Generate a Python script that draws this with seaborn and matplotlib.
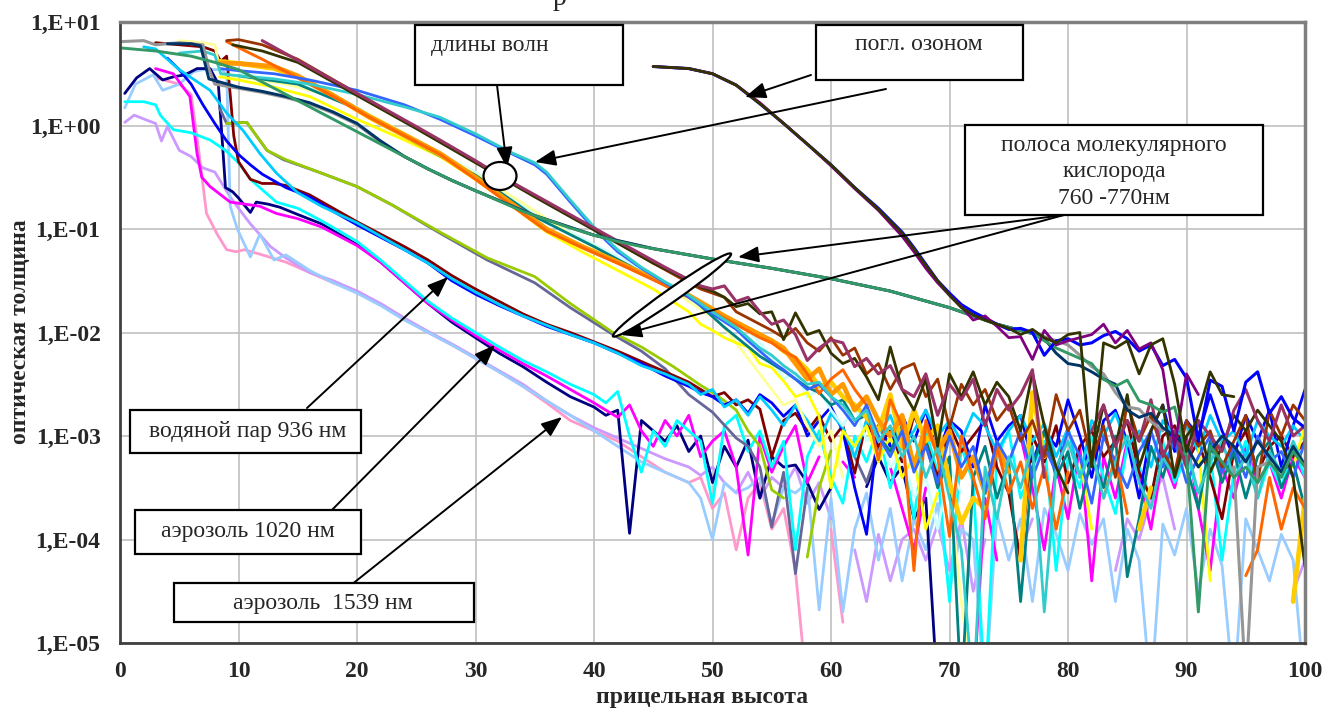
import numpy as np
import seaborn as sns
import matplotlib
matplotlib.use("Agg")
import matplotlib.pyplot as plt
from matplotlib.patches import Rectangle, Ellipse
from matplotlib.transforms import Affine2D

nan = np.nan

# optical depth, stored as log10(tau)
# each curve: knots (x, lg) + an optional noisy tail sampled every 1 unit

# --- aerosol 1539 nm ---
pink_x = [3, 5, 6, 6.6, 7.3, 8.2, 9, 9.8, 10.5, 12, 14, 16, 18, 20, 22, 24, 26, 28, 30, 32, 34, 36, 38, 40, 42, 44, 46, 48]
pink_lg = [0.46, 0.40, 0.30, -0.20, -0.85, -1.05, -1.20, -1.22, -1.20, -1.25, -1.32, -1.42, -1.52, -1.60, -1.73, -1.87,
           -2.00, -2.12, -2.25, -2.38, -2.52, -2.68, -2.85, -2.95, -3.05, -3.20, -3.35, -3.45]
pink_tail = [-3.40, -3.70, -3.55, -4.10, -3.60, -3.45, -3.90, -3.70, -4.30, -5.50, nan, -3.90, -4.80]

lav_x = [0.4, 1.2, 2.3, 3, 3.5, 4, 5, 6, 7, 8, 9.3, 10, 11, 12.7, 14, 16, 18, 20, 22, 24, 26, 28, 30, 32, 34, 36, 38,
         40, 42, 44, 46, 48]
lav_lg = [0.03, 0.10, 0.05, 0.02, -0.15, -0.01, -0.24, -0.30, -0.41, -0.45, -0.69, -0.80, -0.95, -1.17, -1.28, -1.42,
          -1.50, -1.60, -1.72, -1.86, -1.99, -2.11, -2.24, -2.37, -2.50, -2.66, -2.80, -2.92, -3.02, -3.12, -3.22, -3.30]
lav_tail = [-3.38, -3.30, -3.45, -3.55, -3.35, -3.60, -3.40, -3.50, -3.30, -3.65, -3.45, -3.80, nan, -4.10, -4.60,
            -3.95, -4.40, -4.00, -3.90, -4.20, -3.85, -4.30, -3.80, -4.50, -4.00, nan, nan, -4.10, -3.80, nan, nan, nan,
            nan, nan, nan, -4.30, -3.80, -4.00, -3.60, -3.40, -3.90, nan, nan, nan, nan, nan, nan, nan, nan, nan,
            -4.50, -4.20]

pale_x = [0.4, 1.3, 2.8, 3.6, 5, 6.2, 7, 8.4, 9, 9.3, 9.9, 11, 11.8, 13, 14, 16, 18, 20, 22, 24, 26, 28, 30, 32, 34,
          36, 38, 40, 42, 44, 46, 48]
pale_lg = [0.17, 0.40, 0.49, 0.34, 0.40, 0.52, 0.54, 0.54, 0.50, -0.78, -1.00, -1.27, -1.05, -1.30, -1.25, -1.40,
           -1.52, -1.62, -1.74, -1.88, -2.00, -2.12, -2.25, -2.38, -2.52, -2.66, -2.80, -2.95, -3.10, -3.25, -3.35, -3.45]
pale_tail = [-3.60, -4.00, -3.45, -3.55, -3.50, -3.40, -3.85, -3.50, -3.55, -3.45, -4.68, -3.60, -4.70, -3.90, -3.55,
             -4.20, -3.70, -4.40, -3.80, -4.10, -3.65, -4.50, -3.90, -4.00, -5.50, -3.75, -4.20, -3.80, -4.60, -3.70,
             -3.95, -4.30, -3.75, -4.05, -3.80, -4.60, -3.90, -4.20, -5.50, -3.85, -4.15, -3.70, -4.50, -3.90, -4.25,
             -5.50, -3.80, -4.10, -4.40, -3.95, -4.20, -5.50]

# --- aerosol 1020 nm ---
navy_x = [0.4, 1.4, 2.5, 3.6, 4.5, 5.5, 6.5, 7.6, 8.3, 8.9, 9.5, 10, 11, 11.5, 12.5, 13.5, 15, 17, 20, 22, 24, 26, 28,
          30, 32, 34, 36, 38, 40]
navy_lg = [0.31, 0.46, 0.55, 0.44, 0.47, 0.49, 0.55, 0.55, 0.40, -0.60, -0.64, -0.70, -0.84, -0.74, -0.76, -0.79,
           -0.86, -0.95, -1.15, -1.32, -1.52, -1.72, -1.90, -2.05, -2.20, -2.33, -2.48, -2.62, -2.72]
navy_tail = [-2.80, -2.75, -3.94, -2.85, -2.95, -3.05, -2.90, -3.15, -3.00, -3.45, -3.10, -3.30, -3.04, -3.60, -3.20,
             -3.30, -3.28, -3.45, -3.71, -3.50, nan, nan, -3.49, -3.20, -3.45, -3.30, -3.80, -3.60, -5.50]

mag_x = [3, 4.5, 5.9, 6.5, 6.9, 7.6, 9.3, 11.8, 13.2, 15, 17, 20, 22, 24, 26, 28, 30, 32, 34, 36, 38, 40]
mag_lg = [0.55, 0.50, 0.28, -0.27, -0.50, -0.59, -0.74, -0.78, -0.85, -0.90, -0.98, -1.16, -1.32, -1.52, -1.72, -1.88,
          -2.03, -2.17, -2.30, -2.42, -2.55, -2.68]
mag_tail = [-2.75, -2.82, -2.70, -2.95, -3.10, -2.85, -3.00, -2.80, -3.20, -3.05, -2.95, -3.30, -4.15, -3.00, -3.35,
            -3.10, -2.90, -3.45, -3.20, nan, -3.25, -3.40, nan, nan, -3.30, -3.70, -4.10, -3.50, nan, nan, nan, -5.50,
            -3.60, -4.20, nan, -3.00, -3.50, -4.10, -3.30, -3.80, -3.10, -4.40, -3.20, -3.60, -3.05, -3.40, -3.90,
            -3.20, -3.50, -3.00, -3.70, -4.30, -3.30, -3.60, -3.10, -3.45, -3.25, -3.60, -3.20, -3.40]

cyan_x = [0.4, 2, 3, 3.4, 4.5, 6, 7.6, 8.9, 10, 11.1, 12.3, 13.2, 15, 17, 20, 22, 24, 26, 28, 30, 32, 34, 36, 38, 40]
cyan_lg = [0.23, 0.23, 0.20, 0.10, -0.04, -0.07, -0.14, -0.24, -0.36, -0.53, -0.65, -0.74, -0.80, -0.92, -1.12, -1.30,
           -1.50, -1.70, -1.86, -2.00, -2.14, -2.27, -2.38, -2.50, -2.60]
cyan_tail = [-2.68, -2.57, -3.00, -3.35, -2.95, -3.10, -2.85, -2.95, -3.05, -3.65, -2.90, -2.80, -3.15, -2.95, -3.30,
             -3.05, -4.10, -3.20, -2.95, -3.40, -3.65, -3.00, -3.25, -2.90, -3.50, -3.10, -3.80, -2.95, -3.35, -4.60,
             -3.10, -3.45, -5.50, -3.20, -2.95, -3.60, -3.30, -3.05, -4.30, -3.20, -3.50, -3.00, -3.40, -3.75, -3.10,
             -3.30, -3.60, -3.05, -3.45, -3.20, -3.55, -3.15, -4.20, -3.35, -3.05, -3.60, -3.25, -3.50, -3.10, -3.40]

# --- lime / blue-grey pair ---
lime_x = [9, 10.7, 12.4, 14, 17, 20, 23, 27, 31, 35, 38, 41.6, 44, 46.7, 49, 50]
lime_lg = [0.02, 0.03, -0.24, -0.33, -0.46, -0.59, -0.77, -1.03, -1.28, -1.46, -1.72, -2.00, -2.14, -2.33, -2.51, -2.58]
lime_tail = [-2.66, -2.75, -2.95, -3.10, -3.52, -3.60, nan, -4.17, -3.50, -3.14]

bgray_x = [8.4, 9, 10.7, 12.4, 13.8, 17, 20, 23, 27, 31, 35, 38, 41.6, 44, 46, 48, 50, 52]
bgray_lg = [0.17, 0.02, 0.03, -0.24, -0.33, -0.46, -0.59, -0.77, -1.04, -1.30, -1.52, -1.76, -2.02, -2.18, -2.35,
            -2.60, -2.77, -3.02]
bgray_tail = [-3.10, -3.30, -3.88, -3.35, -4.33, -3.50, nan, nan, nan, -3.20, -3.45, -3.10]

# --- water vapour 936 nm ---
wblue_x = [4, 5, 6, 7, 8, 9, 10, 11, 12, 14, 16, 18, 20, 22, 24, 26, 28, 30, 32, 34, 36, 38, 40, 42, 44, 46, 48]
wblue_lg = [0.65, 0.54, 0.40, 0.20, 0.02, -0.15, -0.28, -0.38, -0.47, -0.60, -0.69, -0.83, -0.96, -1.08, -1.20, -1.33,
            -1.50, -1.63, -1.74, -1.84, -1.94, -2.02, -2.10, -2.20, -2.30, -2.42, -2.52]
wblue_tail = [-2.58, -2.62, -2.70, -2.65, -2.78, -2.60, -2.68, -2.81, -2.70, -3.00, -2.85, -2.72, -2.95, -3.50, -3.95,
              -2.90, -3.10, -2.80, -3.05, -2.75, -3.20, -2.85, -2.95, -3.30, -2.70, -3.05, -2.90, -2.80, -3.25, -2.95,
              -3.10, -2.65, -3.00, -3.40, -2.85, -2.75, -3.05, -3.60, -2.95, -2.70, -3.15, -2.85, -3.00, -2.60, -2.95,
              -3.20, -2.80, -3.05, -2.75, -3.30, -2.90, -2.55]

wdred_x = [3, 5, 7, 8, 8.5, 9, 9.3, 9.6, 10, 11, 12, 13, 14, 16, 18, 20, 22, 24, 26, 28, 30, 32, 34, 36, 38, 40, 42,
           44, 46, 48]
wdred_lg = [0.80, 0.78, 0.76, 0.72, 0.62, 0.67, 0.30, -0.10, -0.35, -0.52, -0.56, -0.56, -0.58, -0.67, -0.80, -0.93,
            -1.05, -1.17, -1.30, -1.45, -1.58, -1.70, -1.82, -1.92, -2.00, -2.09, -2.18, -2.28, -2.38, -2.48]
wdred_tail = [-2.55, -2.62, -2.58, -2.70, -2.65, -2.74, -3.20, -2.85, -2.78, -2.95, -2.80, -3.05, -2.90, -3.36, -2.85,
              -3.10, -2.95, -3.25, -2.80, -3.05, -3.40, -2.90, -3.15, -3.00, -2.85, -3.30, -3.55, -4.20, -3.00, -3.25,
              -2.90, -3.45, -3.10, -2.95, -3.20, -3.05, -2.85, -3.35, -3.60, -3.00, -2.90, -3.25, -3.05, -3.40, -3.80,
              -3.15, -2.95, -3.35, -3.10, -3.00, -3.20, -3.05]

wsky_x = [2, 3, 5, 7.6, 9, 10.4, 11.8, 13.2, 15, 17, 20, 22, 24, 26, 28, 30, 32, 34, 36, 38, 40, 42, 44, 46, 48]
wsky_lg = [0.76, 0.74, 0.54, 0.34, 0.12, -0.05, -0.27, -0.46, -0.65, -0.78, -0.94, -1.07, -1.20, -1.33, -1.48, -1.61,
           -1.73, -1.84, -1.93, -2.02, -2.10, -2.20, -2.32, -2.40, -2.50]
wsky_tail = [-2.60, -2.55, -2.72, -2.65, -2.80, -2.62, -2.75, -2.90, -2.70, -2.85, -3.05, -2.78, -2.92, -3.20, -2.85,
             -3.00, -2.80, -3.10, -2.95, -2.75, -3.00, -2.85, -3.05, -2.78, -2.90, -3.15, -2.95, -2.80, -3.05, -2.88,
             -3.20, -2.92, -3.40, -2.85, -3.00, -2.78, -3.10, -2.95, -3.30, -2.85, -3.00, -2.90, -3.15, -2.80, -3.05,
             -2.95, -3.20, -2.85, -3.00, -3.10, -2.90, -3.05]

# --- wavelengths bundle ---
lturq_x = [10, 15, 20, 25, 30, 35, 40, 45, 50, 53]
lturq_lg = [0.50, 0.42, 0.18, -0.15, -0.45, -0.85, -1.15, -1.45, -1.78, -1.98]
lturq_tail = [-2.10, -2.25, -2.45, -2.38, -2.62, -2.55, -2.75, -2.90, -2.70, -3.05, -2.95, -3.30, -3.15, -3.60, -3.40,
              -3.90, -3.30, -3.55]

lyel_x = [5, 7, 8, 8.5, 10, 14, 18, 22, 26, 30, 34, 38, 42, 46, 50]
lyel_lg = [0.82, 0.80, 0.78, 0.50, 0.47, 0.40, 0.28, 0.05, -0.20, -0.47, -0.75, -1.05, -1.30, -1.55, -1.85]
lyel_tail = [-1.95, -2.10, -2.25, -2.40, -2.55, -2.70, -2.65, -2.90, -3.10, -2.95, -3.40, nan, nan, nan, nan, nan, nan,
             nan, nan, -3.50, -4.60, -5.50]

yel_x = [8.4, 10, 13, 16, 20, 24, 27, 30, 33, 36, 39, 42, 45, 48]
yel_lg = [0.47, 0.44, 0.37, 0.28, 0.06, -0.14, -0.30, -0.52, -0.77, -1.03, -1.22, -1.40, -1.58, -1.80]
yel_tail = [-1.92, -1.98, -2.05, -2.10, -2.14, -2.30, -2.34, -2.47, -2.62, -2.58, -2.81, -3.50, -2.95, -3.10, -2.90,
            -3.25, -3.00, -3.40, -3.20, -3.90, -3.55, nan, nan, nan, nan, nan, nan, nan, nan, nan, nan, nan, -3.20,
            -3.90, nan, nan, nan, nan, nan, nan, nan, nan, -3.10, -4.40, nan, nan, nan, nan, nan, nan, -3.30, -2.90]

teal_x = [10, 15, 20, 25, 30, 35, 40, 45, 48, 51, 54]
teal_lg = [0.48, 0.40, 0.16, -0.17, -0.48, -0.88, -1.17, -1.48, -1.64, -1.95, -2.23]
teal_tail = [-2.30, -2.37, -2.45, -2.53, -2.58, -2.70, -2.65, -2.85, -2.80, -3.00, -3.15, -2.90, -3.30, -3.05, -3.50,
             -3.20, -5.50, -3.40, -3.10, -3.60, -3.25, -4.60, -3.30, -2.95, -3.40, -3.15, -3.70, -3.20, -3.50, -3.00,
             -4.36, -3.80, -3.10, -3.40, -3.00, -3.30, -3.70, -3.05, -3.45, -3.15, -3.60, -3.20, -3.05, -3.50, -3.25,
             -3.70]

gold_x = [8.4, 10, 13, 15, 18, 21, 24, 27, 30, 33, 36, 39, 42, 45, 48, 51, 54]
gold_lg = [0.62, 0.60, 0.55, 0.47, 0.29, 0.08, -0.10, -0.28, -0.51, -0.76, -1.01, -1.17, -1.32, -1.48, -1.65, -1.85,
           -2.03]
gold_tail = [-2.08, -2.18, -2.25, -2.36, -2.52, -2.48, -2.62, -2.70, -2.82, -2.95, -2.60, -3.10, -2.75, -3.05, -2.90,
             -3.45, -3.84, -3.60, -3.70, nan, nan, -4.20, -2.58, -3.20, nan, nan, nan, nan, nan, nan, nan, -3.90,
             -3.50, nan, nan, nan, nan, nan, nan, nan, nan, nan, nan, nan, -4.60, -3.60]

lor_x = [8.4, 10, 13, 15, 18, 21, 24, 27, 30, 33, 36, 39, 42, 45, 48, 51, 54]
lor_lg = [0.60, 0.60, 0.57, 0.48, 0.29, 0.09, -0.09, -0.27, -0.50, -0.75, -1.00, -1.17, -1.32, -1.48, -1.64, -1.84,
          -2.02]
lor_tail = [-2.08, -2.15, -2.30, -2.45, -2.35, -2.60, -2.50, -2.75, -2.62, -2.85, -3.00, -2.80, -3.30, -2.90, -3.15,
            -2.95, -3.40, -3.20, -3.55, -3.10, -3.35]

orng_x = [9, 12, 15, 18, 21, 24, 27, 30, 33, 36, 39, 42, 45, 48, 51, 54]
orng_lg = [0.81, 0.64, 0.46, 0.28, 0.08, -0.10, -0.28, -0.52, -0.77, -1.02, -1.18, -1.33, -1.49, -1.66, -1.86, -2.05]
orng_tail = [-2.10, -2.18, -2.24, -2.40, -2.59, -2.45, -2.36, -2.55, -2.70, -3.23, -2.65, -2.90, -4.30, -2.85, -3.20,
             -3.97, -3.00, -3.40, -3.80, -3.10, -3.55, -3.25, -3.70, -3.30, -3.90, -3.35, nan, nan, -3.60, -3.20,
             -3.75, nan, nan, nan, nan, nan, nan, nan, nan, nan, -4.35, -4.10, -3.40, -3.90, -3.50, -3.70]

lblue_x = [8.4, 10, 13, 16, 20, 24, 27, 30, 33, 35, 36, 38, 40, 42, 44, 46, 48, 50, 52]
lblue_lg = [0.55, 0.53, 0.50, 0.44, 0.34, 0.20, 0.06, -0.10, -0.27, -0.38, -0.47, -0.74, -1.00, -1.22, -1.38, -1.52,
            -1.66, -1.82, -1.97]
lblue_tail = [-2.08, -2.18, -2.28, -2.36, -2.45, -2.55, -2.50, -2.62, -2.75, -2.90, -2.70, -3.00, -3.20, -2.95, -3.35,
              -3.10, -3.45, -3.00, -3.30, -3.10, -3.55, -3.05, -3.25, -2.95, -3.40, -3.10, -3.35, -2.95, -3.20, -3.65,
              -3.00, -3.25, -3.50, -3.15, -2.95, -3.30, -3.05, -3.45, -3.20, -3.00, -3.35, -3.10, -3.40, -3.00, -3.25,
              -3.15, -3.40, -3.05]

aqua_x = [5, 7, 8, 8.5, 10, 13, 16, 20, 24, 27, 30, 33, 35, 36, 38, 40, 42, 44, 46, 48, 50, 52]
aqua_lg = [0.70, 0.72, 0.68, 0.50, 0.48, 0.45, 0.40, 0.30, 0.18, 0.08, -0.08, -0.26, -0.36, -0.45, -0.72, -0.98, -1.20,
           -1.37, -1.51, -1.64, -1.80, -1.95]
aqua_tail = [-2.05, -2.15, -2.22, -2.32, -2.40, -2.50, -2.48, -2.62, -2.70, -2.85, -2.75, -3.05, -2.90, -3.20, -3.00,
             -3.40, -3.10, -3.60, -4.10, -5.50, -3.30, -3.80, -3.20, -3.50, -3.10, -4.70, -3.30, -3.05, -3.40, -3.15,
             -3.60, -3.25, -3.00, -3.45, -3.70, -3.20, -3.40, -3.10, -3.55, -3.25, -3.05, -3.40, -3.20, -3.60, -3.15,
             -3.35, -3.05, -3.30]

brown_x = [9, 10, 12, 15, 20, 25, 30, 35, 40, 45, 48]
brown_lg = [0.82, 0.83, 0.78, 0.64, 0.31, -0.02, -0.35, -0.68, -1.00, -1.33, -1.52]
brown_tail = [-1.58, -1.62, -1.66, -1.80, -1.86, -1.92, -1.98, -2.05, -1.96, -2.10, -2.18, -2.05, -2.22, -2.15, -2.40,
              -2.30, -2.55, -2.35, -2.30, -2.62, -2.45, -2.92, -2.50, -2.70, -2.55, -2.85, -2.70, -3.05, -2.85, -3.20,
              -2.60, -2.95, -2.75, -3.25, -2.90, -3.40, -2.68, -3.05, -2.80, -3.15, -3.35, -2.85, -3.10, -2.95, -3.30,
              -3.05, -2.80, -3.45, -2.75, -3.00, -2.70, -2.85]

olive_x = [9.5, 12, 15, 20, 25, 30, 35, 40, 45, 48]
olive_lg = [0.78, 0.72, 0.61, 0.29, -0.03, -0.36, -0.69, -1.01, -1.33, -1.50]
olive_tail = [-1.56, -1.60, -1.66, -1.75, -1.72, -1.82, -1.80, -2.07, -1.81, -2.02, -1.98, -2.20, -2.30, -2.25, -2.43,
              -2.65, -2.14, -2.55, -2.75, -2.45, -3.10, -2.40, -2.62, -2.38, -2.70, -2.48, -2.62, -2.95, -2.39, -2.90,
              -3.30, -3.55, nan, -3.20, -2.70, -3.10, -2.60, -3.30, -2.95, -2.70, -3.40, -3.00, -2.85, -3.35, -3.10,
              -2.80, -2.95, -2.75, -2.90, -3.05, -3.40, -4.26]

plum_x = [12, 15, 20, 25, 27, 30, 32, 35, 40, 43, 46, 49]
plum_lg = [0.82, 0.63, 0.31, -0.01, -0.14, -0.34, -0.48, -0.67, -0.99, -1.18, -1.37, -1.55]
plum_tail = [-1.58, -1.55, -1.70, -1.66, -1.80, -1.92, -1.88, -2.02, -2.27, -2.15, -2.07, -2.10, -2.33, -2.25, -2.40,
             -2.32, -2.55, -2.62, -2.40, -2.80, -2.50, -2.65, -2.45, -2.90, -2.55, -2.75, -2.60, -2.36, -3.40, nan,
             -2.80, nan, -2.95, -2.70, -3.10, -2.85, -3.05, -2.65, -3.20, -2.95, -3.30, -2.85, -3.00, -3.15, -2.75,
             -2.55, -2.85, -3.05, -2.70, -3.00, -2.90]

# --- O2 band 760-770 nm ---
gray_x = [0, 2, 3, 5, 7, 7.5, 8, 10, 12, 14, 16, 18, 20, 22, 24, 26, 28, 30, 35, 40, 45, 50, 55, 60, 65, 70, 74, 77]
gray_lg = [0.81, 0.82, 0.78, 0.80, 0.78, 0.55, 0.40, 0.36, 0.32, 0.27, 0.21, 0.12, 0.01, -0.16, -0.30, -0.42, -0.53,
           -0.63, -0.87, -1.06, -1.19, -1.29, -1.38, -1.48, -1.60, -1.76, -1.92, -2.01]
gray_tail = [-2.04, -2.08, -2.12, -2.22, -2.33, -2.40, -2.58, -2.72, -2.74, -2.86, -2.95, nan, nan, nan, nan, nan,
             -3.30, -5.40, -3.30, -3.25]

dteal_x = [4, 6, 6.8, 7.5, 10, 12, 14, 16, 18, 20, 22, 24, 26, 28, 30, 35, 40, 45, 50, 55, 60, 65, 70, 74, 77]
dteal_lg = [0.79, 0.79, 0.77, 0.45, 0.37, 0.33, 0.28, 0.22, 0.13, 0.02, -0.15, -0.30, -0.42, -0.53, -0.63, -0.87,
            -1.06, -1.19, -1.29, -1.38, -1.48, -1.60, -1.76, -1.92, -2.01]
dteal_tail = [-2.06, -2.20, -2.30, -2.32, -2.38, -2.45, -2.50, -2.75, -2.82, -2.78, -2.92, -3.00, -3.10, -3.30, -3.15,
              -3.00, -3.10, -3.25, -3.05, -3.20, -3.35, -3.10, -3.28]

sea_x = [0, 3, 6, 8, 10, 12, 14, 16, 18, 20, 22, 24, 26, 28, 30, 32, 34, 36, 38, 40, 42, 44, 46, 48, 50, 55, 60, 65,
         70, 72, 74, 76, 77]
sea_lg = [0.75, 0.72, 0.67, 0.61, 0.54, 0.42, 0.30, 0.18, 0.06, -0.06, -0.18, -0.30, -0.42, -0.53, -0.63, -0.73, -0.83,
          -0.91, -0.99, -1.06, -1.12, -1.17, -1.21, -1.25, -1.29, -1.38, -1.48, -1.60, -1.76, -1.84, -1.92, -1.98, -2.01]
sea_tail = [-2.08, -2.15, -2.20, -2.25, -2.30, -2.45, -2.52, -2.46, -2.66, -2.70, -2.77, -2.72, -3.20, -4.70, -3.10,
            -3.25, -3.40, -3.30, -3.45, -3.25, -3.40, -3.15, -3.30]

# --- ozone absorption ---
oz_x = [45, 48, 50, 52, 54, 56, 58, 60, 62, 64, 66, 67, 68, 69, 70, 71, 72, 73, 74, 75]
oz_purple = [0.57, 0.55, 0.50, 0.39, 0.22, 0.02, -0.18, -0.39, -0.61, -0.82, -1.07, -1.22, -1.38, -1.52, -1.64, -1.75,
             -1.88, -1.84, -1.94, -2.05]
oz_purple_tail = [-2.04, -2.26, -1.98, -2.12, -2.08, -2.05, -2.02, -1.92, -2.10, -1.98, -2.16, -2.10, -2.36, -3.10,
                  -2.40, -2.60]
oz_olive = [0.57, 0.55, 0.50, 0.39, 0.21, 0.02, -0.18, -0.38, -0.60, -0.81, -1.04, -1.19, -1.35, -1.50, -1.64, -1.76,
            -1.83, -1.88, -1.92, -1.96]
oz_olive_tail = [-2.02, -1.97, -2.05, -2.10, -2.02, -2.00, -3.30, -2.10, -2.15, -2.08, -2.40, -2.12, -2.06, -2.50,
                 -3.15, -2.78, -2.38, -2.60, -2.62]
oz_blue = [0.57, 0.55, 0.50, 0.39, 0.21, 0.02, -0.18, -0.38, -0.60, -0.80, -1.03, -1.18, -1.34, -1.50, -1.62, -1.73,
           -1.80, -1.86, -1.92, -1.97]
oz_blue_tail = [-1.96, -2.00, -2.22, -2.08, -2.06, -2.12, -2.10, -2.03, -1.99, -2.06, -2.18, -2.12, -2.32, -2.26,
                -2.44, -3.05, -2.46, -2.52, -2.95, -2.48, -2.38, -2.78, -2.62, -2.83, -2.92]

y_ticks = [1e-5, 1e-4, 1e-3, 1e-2, 1e-1, 1e0, 1e1]
y_labels = ["1,E-05", "1,E-04", "1,E-03", "1,E-02", "1,E-01", "1,E+00", "1,E+01"]
x_ticks = [0, 10, 20, 30, 40, 50, 60, 70, 80, 90, 100]


def series(kx, klg, tail, t0):
    x = list(kx) + [t0 + i for i in range(len(tail))]
    lg = list(klg) + list(tail)
    return np.array(x, float), 10 ** np.array(lg, float)


LW = 2.0
# (x, tau), colour, line width -- drawn in this order
curves = [
    (series(pink_x, pink_lg, pink_tail, 49), "#FF99CC", LW),
    (series(lav_x, lav_lg, lav_tail, 49), "#CC99FF", LW),
    (series(pale_x, pale_lg, pale_tail, 49), "#99CCFF", LW),
    (series(navy_x, navy_lg, navy_tail, 41), "#000080", LW),
    (series(mag_x, mag_lg, mag_tail, 41), "#FF00FF", LW),
    (series(cyan_x, cyan_lg, cyan_tail, 41), "#00FFFF", LW),
    (series(bgray_x, bgray_lg, bgray_tail, 53), "#666699", LW),
    (series(lime_x, lime_lg, lime_tail, 51), "#99CC00", LW),
    (series(wdred_x, wdred_lg, wdred_tail, 49), "#800000", LW),
    (series(wblue_x, wblue_lg, wblue_tail, 49), "#0000FF", LW),
    (series(wsky_x, wsky_lg, wsky_tail, 49), "#00CCFF", LW),
    (series(lturq_x, lturq_lg, lturq_tail, 54), "#CCFFFF", LW),
    (series(lyel_x, lyel_lg, lyel_tail, 51), "#FFFF99", LW),
    (series(yel_x, yel_lg, yel_tail, 49), "#FFFF00", LW),
    (series(teal_x, teal_lg, teal_tail, 55), "#008080", LW),
    (series(gold_x, gold_lg, gold_tail, 55), "#FFCC00", 3.4),
    (series(lor_x, lor_lg, lor_tail, 55), "#FF9900", 3.4),
    (series(orng_x, orng_lg, orng_tail, 55), "#FF6600", 2.1),
    (series(lblue_x, lblue_lg, lblue_tail, 53), "#3366FF", LW),
    (series(aqua_x, aqua_lg, aqua_tail, 53), "#33CCCC", LW),
    (series(brown_x, brown_lg, brown_tail, 49), "#993300", LW),
    (series(olive_x, olive_lg, olive_tail, 49), "#333300", LW),
    (series(plum_x, plum_lg, plum_tail, 50), "#993366", 2.2),
    (series(gray_x, gray_lg, gray_tail, 78), "#969696", 2.2),
    (series(dteal_x, dteal_lg, dteal_tail, 78), "#003366", 2.1),
    (series(sea_x, sea_lg, sea_tail, 78), "#339966", 2.1),
    (series(oz_x, oz_blue, oz_blue_tail, 76), "#0000FF", 2.2),
    (series(oz_x, oz_purple, oz_purple_tail, 76), "#800080", LW),
    (series(oz_x, oz_olive, oz_olive_tail, 76), "#333300", LW),
]

sns.set_style("white")
plt.rcParams["font.family"] = ["Liberation Serif", "DejaVu Serif"]

W, H = 1326, 715
fig = plt.figure(figsize=(W / 100, H / 100), dpi=100)
ax = fig.add_axes([120 / W, 1 - 643 / H, 1185 / W, 621 / H])
ax.set_yscale("log")

for (x, y), color, lw in curves:
    ok = np.flatnonzero(~np.isnan(y))
    runs = np.split(ok, np.flatnonzero(np.diff(ok) > 1) + 1)
    for r in runs:
        if len(r) < 2:
            continue
        sns.lineplot(x=x[r], y=y[r], color=color, lw=lw, ax=ax, estimator=None, sort=False, legend=False)

ax.set_xlim(0, 100)
ax.set_ylim(1e-5, 10)
ax.set_xticks(x_ticks)
ax.set_xticklabels([str(t) for t in x_ticks], fontweight="bold")
ax.set_yticks(y_ticks)
ax.set_yticklabels(y_labels, fontweight="bold")
ax.yaxis.set_minor_locator(matplotlib.ticker.NullLocator())
ax.tick_params(axis="both", labelsize=17, length=5, width=1.5, direction="out", color="#404040")
ax.tick_params(axis="y", pad=9)
ax.tick_params(axis="x", pad=8)
ax.grid(True, color="#C0C0C0", lw=1.2)
ax.set_axisbelow(True)
ax.set_xlabel("")
ax.set_ylabel("")
for side in ["left", "bottom"]:
    ax.spines[side].set_color("#404040")
    ax.spines[side].set_linewidth(2)
for side in ["top", "right"]:
    ax.spines[side].set_color("#808080")
    ax.spines[side].set_linewidth(2.5)

# annotations in image pixel coordinates (y down)
pix = Affine2D().scale(1 / W, -1 / H).translate(0, 1) + fig.transFigure

fig.text(702, 698, "прицельная высота", transform=pix, ha="center", va="center", fontsize=17, fontweight="bold")
fig.text(21, 332, "оптическая толщина", transform=pix, ha="center", va="center", rotation=90, fontsize=17,
         fontweight="bold")
# only the lower part of the title letter shows at the top edge, as in the source
fig.text(560, 5, "р", transform=pix, ha="center", va="baseline", fontsize=20)

boxes = [(415, 25, 208, 60), (816, 25, 207, 55), (965, 125, 298, 90), (130, 410, 231, 43), (135, 510, 226, 44),
         (174, 583, 300, 39)]
for bx, by, bw, bh in boxes:
    fig.add_artist(Rectangle((bx, by), bw, bh, transform=pix, facecolor="white", edgecolor="black", lw=1.6,
                             zorder=5))

notes = [("длины волн", 490, 46), ("погл. озоном", 919, 44), ("полоса молекулярного", 1114, 146),
         ("кислорода", 1114, 172), ("760 -770нм", 1114, 199), ("водяной пар 936 нм", 248, 432),
         ("аэрозоль 1020 нм", 248, 532), ("аэрозоль  1539 нм", 323, 603)]
for s, tx, ty in notes:
    fig.text(tx, ty, s, transform=pix, ha="center", va="center", fontsize=17, zorder=6)

fig.add_artist(Ellipse((500, 176), 33, 28, transform=pix, facecolor="white", edgecolor="black", lw=1.6, zorder=5))
fig.add_artist(Ellipse((672, 295), 144, 13, angle=-35, transform=pix, facecolor="white", edgecolor="black", lw=1.6,
                       zorder=5))

arrows = [((497, 85), (507, 168)), ((886, 89), (535, 162)), ((811, 75), (745, 97)), ((1064, 215), (738, 257)),
          ((1064, 215), (621, 335)), ((307, 408), (448, 277)), ((324, 518), (495, 345)), ((341, 593), (562, 417))]
for start, tip in arrows:
    ax.annotate("", xy=tip, xycoords=pix, xytext=start, textcoords=pix, annotation_clip=False, zorder=7,
                arrowprops=dict(arrowstyle="-|>,head_length=0.9,head_width=0.35", color="black", lw=1.4,
                                shrinkA=0, shrinkB=0, mutation_scale=14))

fig.savefig("out.png", dpi=100)
